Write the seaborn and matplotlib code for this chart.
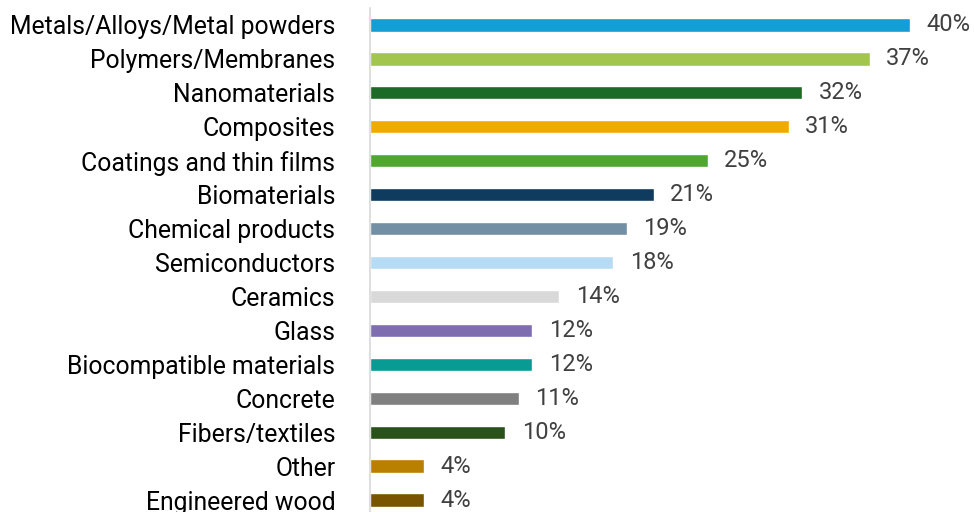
import pandas as pd
import seaborn as sns
import matplotlib.pyplot as plt

# data
categories = ["Metals/Alloys/Metal powders", "Polymers/Membranes", "Nanomaterials",
              "Composites", "Coatings and thin films", "Biomaterials",
              "Chemical products", "Semiconductors", "Ceramics", "Glass",
              "Biocompatible materials", "Concrete", "Fibers/textiles", "Other",
              "Engineered wood"]
shares = [40, 37, 32, 31, 25, 21, 19, 18, 14, 12, 12, 11, 10, 4, 4]
bar_colors = ["#129fd6", "#a2c64d", "#1b6a25", "#f0ab00", "#4fa72f", "#0e3b5e",
              "#738fa3", "#b7dbf5", "#d9d9d9", "#7e6eb0", "#079b93", "#808080",
              "#285219", "#b98000", "#7a5500"]

df = pd.DataFrame({"category": categories, "share": shares})

sns.set_style("white")
plt.rcParams['font.family'] = ['Roboto', 'DejaVu Sans']

fig = plt.figure(figsize=(9.74, 5.12), dpi=100)
ax = fig.add_axes([370 / 974, 0, 604 / 974, 1])

sns.barplot(data=df, x="share", y="category", hue="category", palette=bar_colors,
            legend=False, width=0.39, saturation=1, ax=ax, orient="h")

for c in ax.containers:
    ax.bar_label(c, labels=[f"{v:.0f}%" for v in c.datavalues], padding=12,
                 fontsize=17, color="#404040")

ax.set_xlim(0, 604 / 13.5)
ax.set_ylim(14 + 12 / 33.93, -25 / 33.93)
ax.set_xlabel("")
ax.set_ylabel("")
ax.set_xticks([])
ax.tick_params(axis="y", length=0, pad=25, labelsize=17.8, labelcolor="#000000")
for s in ["top", "right", "bottom"]:
    ax.spines[s].set_visible(False)
ax.spines["left"].set_color("#d9d9d9")
ax.spines["left"].set_linewidth(1.2)
ax.spines["left"].set_bounds(14 + 12 / 33.93, -0.5)

plt.savefig("out.png", dpi=100)
